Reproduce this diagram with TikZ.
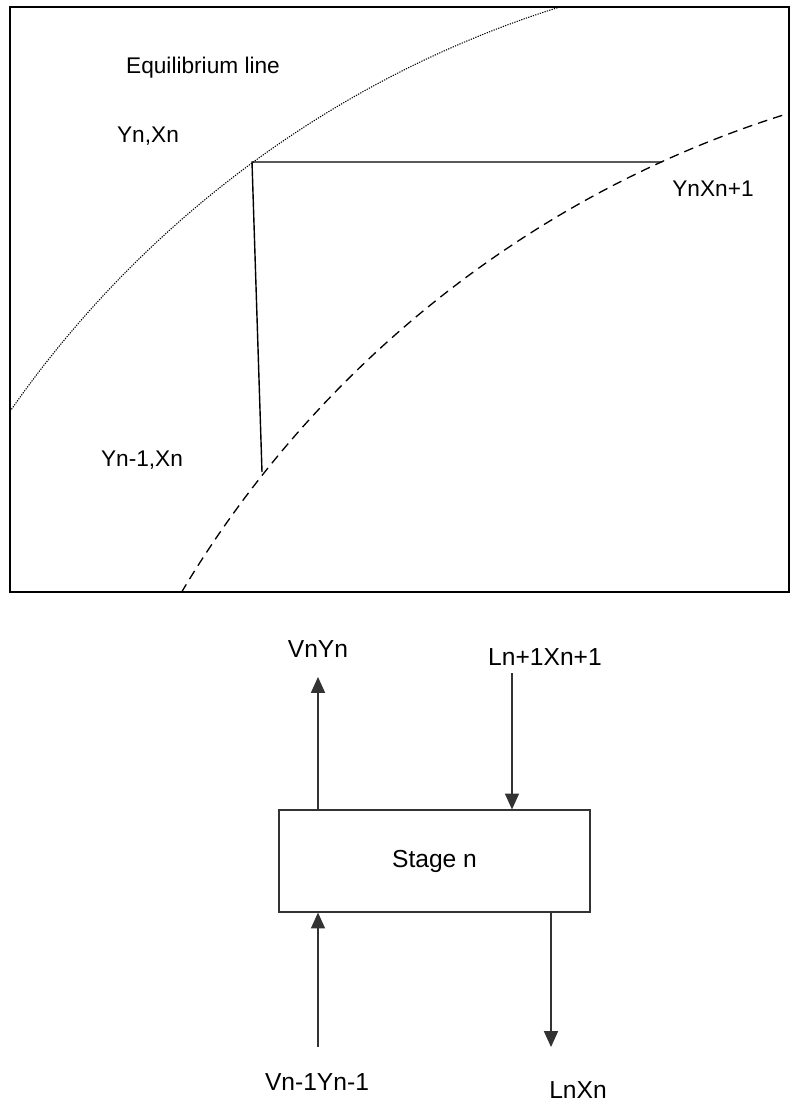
\documentclass[tikz,border=0pt]{standalone}
\usepackage{fontspec}
\setmainfont{Liberation Sans}
\usetikzlibrary{arrows.meta}
\begin{document}
\begin{tikzpicture}[x=.02cm,y=-.02cm,
  lbl/.style={font=\fontsize{12.9}{15}\selectfont,inner sep=0pt},
  flowlbl/.style={font=\fontsize{14}{17}\selectfont,inner sep=0pt},
  stagebox/.style={draw=black!80,line width=.7pt,minimum width=6.22cm,minimum height=2.04cm,font=\fontsize{14}{17}\selectfont},
  flow/.style={draw=black!80,line width=.7pt,-{Triangle[length=9pt,width=8pt]}},
  eqline/.style={line width=.6pt,dash pattern=on .7pt off .7pt},
  opline/.style={line width=.75pt,dash pattern=on 5.5pt off 3.5pt}]
\useasboundingbox (0,0) rectangle (791,1102);
% y-x diagram
\draw[line width=.9pt] (10,7) rectangle (789,592);
\begin{scope}
\clip (10,7) rectangle (789,592);
\draw[eqline] (875,1012) circle[radius=1053];
\draw[opline] (1109,1144) circle[radius=1079];
\end{scope}
\coordinate (cn) at (252,162);
\coordinate (cr) at (662,162);
\coordinate (cb) at (262,472);
\draw[line width=.8pt] (cr) -- (cn) -- (cb);
\node[lbl] (eq) at (203,68) {Equilibrium line};
\node[lbl] (ynxn) at (148,136) {Yn,Xn};
\node[lbl] (yn1xn) at (142,460) {Yn-1,Xn};
\node[lbl] (ynxn1) at (713,189) {YnXn+1};
% stage n
\node[stagebox] (stage) at (434.5,861) {Stage n};
\node[flowlbl] (vnyn) at (318,649) {VnYn};
\node[flowlbl] (lin) at (545,657) {Ln+1Xn+1};
\node[flowlbl] (vin) at (317,1082) {Vn-1Yn-1};
\node[flowlbl] (lout) at (578,1090) {LnXn};
\coordinate (vtip) at (318,677);
\coordinate (ltop) at (512,673);
\coordinate (vbot) at (318,1047);
\coordinate (ltip) at (551,1047);
\draw[flow] (stage.north -| vtip) -- (vtip);
\draw[flow] (ltop) -- (stage.north -| ltop);
\draw[flow] (vbot) -- (stage.south -| vbot);
\draw[flow] (stage.south -| ltip) -- (ltip);
\end{tikzpicture}
\end{document}
